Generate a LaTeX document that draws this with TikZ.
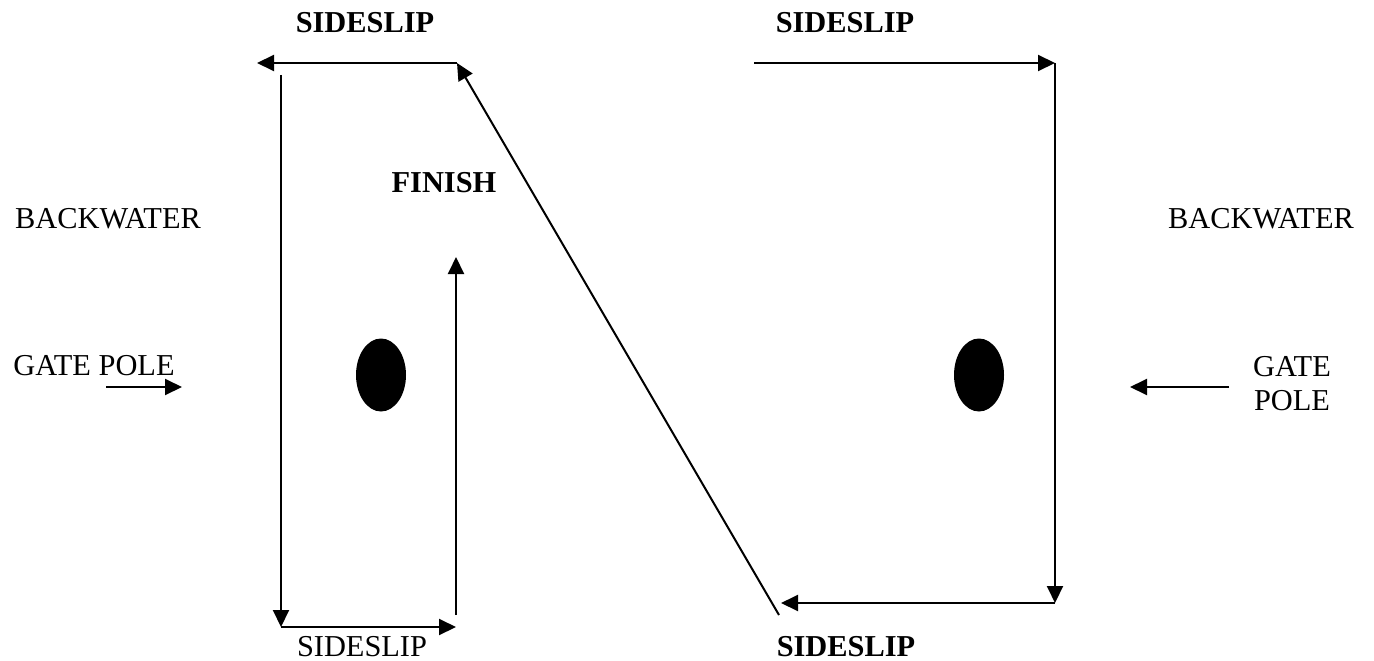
\documentclass[tikz,border=0pt]{standalone}
\usepackage{fontspec}
\setmainfont{Liberation Serif}
\usetikzlibrary{shapes.geometric, arrows.meta, positioning}

\begin{document}
\begin{tikzpicture}[x=1bp, y=-1bp, line width=2bp,
  lbl/.style={font=\fontsize{30.5}{36}\selectfont, inner sep=0pt, anchor=base},
  blbl/.style={lbl, font=\fontsize{30.5}{36}\selectfont\bfseries},
  pole/.style={ellipse, fill=black, minimum width=50bp, minimum height=73bp, inner sep=0pt},
  flow/.style={-{Triangle[length=17bp,width=16bp]}}]

  \useasboundingbox (0,0) rectangle (1374,661);

  % --- labels ---
  \node[blbl] (slipTL) at (365,33) {SIDESLIP};
  \node[blbl] (slipTR) at (845,33) {SIDESLIP};
  \node[lbl]  (slipBL) at (362,656) {SIDESLIP};
  \node[blbl] (slipBR) at (846,656) {SIDESLIP};
  \node[blbl] (finish) at (444,192) {FINISH};
  \node[lbl]  (backL)  at (108,228) {BACKWATER};
  \node[lbl]  (backR)  at (1261,228) {BACKWATER};
  \node[lbl]  (gateL)  at (94,375) {GATE POLE};
  \node[lbl, anchor=center, align=center] (gateR) at (1292,384) {GATE\\[-2bp]POLE};

  % --- gate poles ---
  \node[pole] (poleL) at (381,375) {};
  \node[pole] (poleR) at (979,375) {};

  % --- left gate: upstream loop ---
  \coordinate (tlR) at (457,63);
  \coordinate (tlL) at (257,63);
  \coordinate (lvTop) at (281,75);
  \coordinate (lvBot) at (281,627);
  \coordinate (blR) at (456,627);
  \coordinate (upBot) at (456,615);
  \coordinate (upTop) at (456,257);
  \draw[flow] (tlR) -- (tlL);
  \draw[flow] (lvTop) -- (lvBot);
  \draw[flow] (lvBot) -- (blR);
  \draw[flow] (upBot) -- (upTop);

  % --- crossing ---
  \coordinate (diagBot) at (779,615);
  \draw[flow] (diagBot) -- (tlR);

  % --- right gate ---
  \coordinate (trL) at (754,63);
  \coordinate (trR) at (1055,63);
  \coordinate (brR) at (1055,603);
  \coordinate (brL) at (781,603);
  \draw[flow] (trL) -- (trR);
  \draw[flow] (trR) -- (brR);
  \draw[flow] (brR) -- (brL);

  % --- pole pointers ---
  \coordinate (gpL0) at (106,387);
  \coordinate (gpL1) at (182,387);
  \coordinate (gpR0) at (1229,387);
  \coordinate (gpR1) at (1130,387);
  \draw[flow] (gpL0) -- (gpL1);
  \draw[flow] (gpR0) -- (gpR1);
\end{tikzpicture}
\end{document}
